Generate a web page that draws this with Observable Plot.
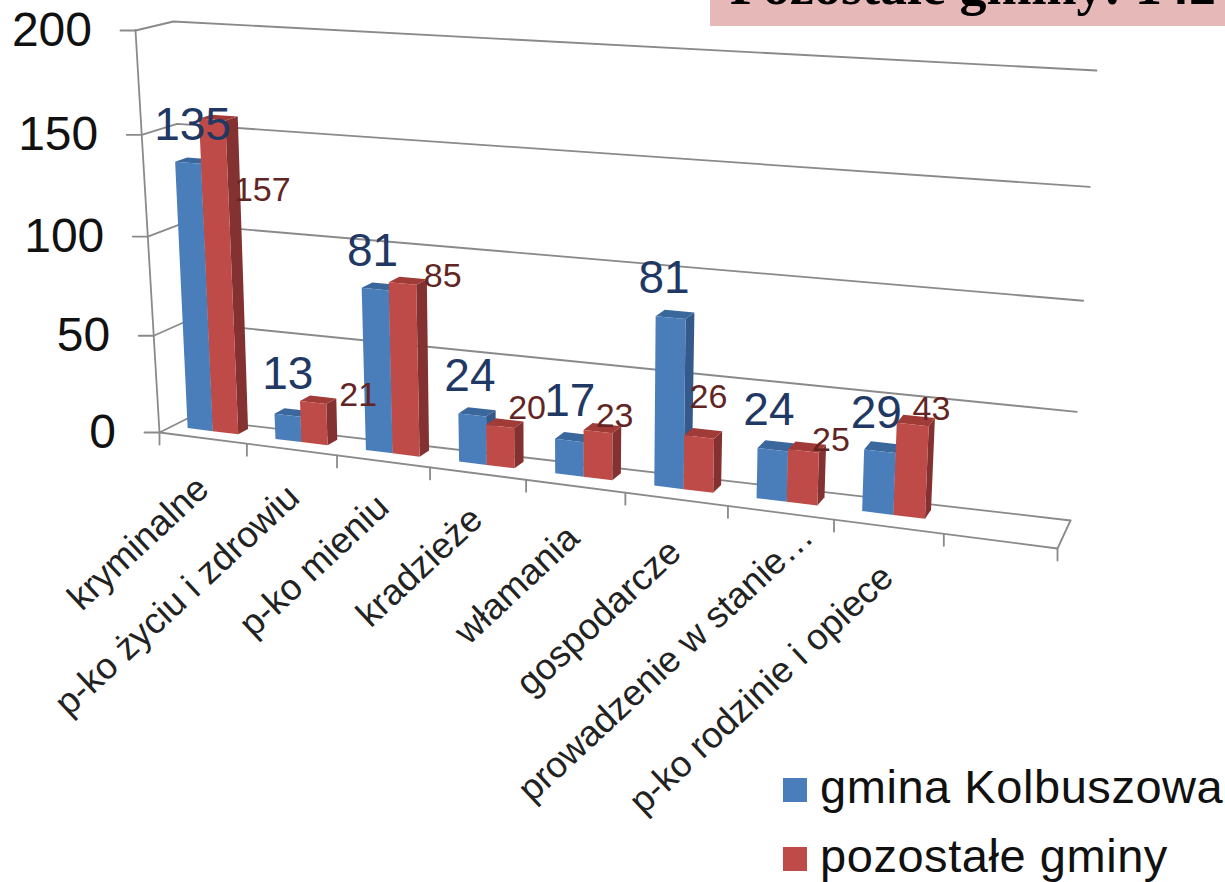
<!DOCTYPE html>
<html lang="pl">
<head>
<meta charset="utf-8">
<script src="https://cdn.jsdelivr.net/npm/d3@7"></script>
<script src="https://cdn.jsdelivr.net/npm/@observablehq/plot@0.6"></script>
<style>
  html, body { margin: 0; padding: 0; background: #fff; overflow: hidden; }
  #wrap { position: relative; width: 1225px; height: 882px; font-family: "Liberation Sans", Arial, sans-serif; }
  #wrap svg { display: block; position: absolute; left: 0; top: 0; }
  #title { position: absolute; left: 710px; top: 0; width: 515px; height: 26px; background: #E6B8B7; overflow: hidden; }
  #title span { position: absolute; left: 20px; top: -45px; font: bold 54px "Liberation Serif", "Times New Roman", serif; color: #000; white-space: nowrap; line-height: 62px; }
  .key { position: absolute; left: 783px; font-size: 47px; line-height: 50px; color: #111; white-space: nowrap; letter-spacing: 0.55px; }
  .key i { position: absolute; left: 0; top: 16px; width: 24px; height: 24px; }
  .key span { margin-left: 37px; }
</style>
</head>
<body>
<div id="wrap"></div>
<script>
const categories = ["kryminalne", "p-ko życiu i zdrowiu", "p-ko mieniu", "kradzieże", "włamania", "gospodarcze", "prowadzenie w stanie…", "p-ko rodzinie i opiece"];
const gminaKolbuszowa = [135, 13, 81, 24, 17, 81, 24, 29];
const pozostaleGminy = [157, 21, 85, 20, 23, 26, 25, 43];
const yTicks = [0, 50, 100, 150, 200];
const slots = 9;

const seriesNames = ["gmina Kolbuszowa", "pozostałe gminy"];
const palette = [
  {front: "#4A7EBB", top: "#3A679C", side: "#34598A", text: "#1F3864"},
  {front: "#BE4B48", top: "#A13B38", side: "#843231", text: "#632523"}
];

// perspective of the chart box: [u across slots, v along the value axis, z depth 0..1]
function quad(p0, p1, p2, p3) {
  const dx1 = p1[0] - p2[0], dy1 = p1[1] - p2[1], dx2 = p3[0] - p2[0], dy2 = p3[1] - p2[1];
  const sx = p0[0] - p1[0] + p2[0] - p3[0], sy = p0[1] - p1[1] + p2[1] - p3[1];
  const den = dx1 * dy2 - dx2 * dy1;
  const g = (sx * dy2 - dx2 * sy) / den, h = (dx1 * sy - sx * dy1) / den;
  const a = p1[0] - p0[0] + g * p1[0], b = p3[0] - p0[0] + h * p3[0];
  const d = p1[1] - p0[1] + g * p1[1], e = p3[1] - p0[1] + h * p3[1];
  return (s, t) => {
    const w = g * s + h * t + 1;
    return [(a * s + b * t + p0[0]) / w, (d * s + e * t + p0[1]) / w];
  };
}
const frontPlane = quad([159, 432], [1057, 548], [1083, 85], [135, 30]);
const backPlane = quad([187, 418], [1070, 520], [1096, 70], [173, 21]);
const box = {
  stream: (out) => ({
    point(u, v, z = 0) {
      const f = frontPlane(u / slots, v / 200), k = backPlane(u / slots, v / 200);
      out.point(f[0] + (k[0] - f[0]) * z, f[1] + (k[1] - f[1]) * z);
    },
    lineStart() { out.lineStart(); },
    lineEnd() { out.lineEnd(); },
    polygonStart() { out.polygonStart(); },
    polygonEnd() { out.polygonEnd(); },
    sphere() {}
  })
};

const line = (coordinates) => ({type: "LineString", coordinates});
const face = (fill, ...ring) => ({type: "Feature", properties: {fill}, geometry: {type: "Polygon", coordinates: [[...ring, ring[0]]]}});

const nearZ = 0.45, farZ = 0.8, gap = 0.18, barW = 0.29;
const faces = [];
categories.forEach((_, i) => {
  [gminaKolbuszowa[i], pozostaleGminy[i]].forEach((val, s) => {
    const c = palette[s], l = i + gap + s * barW, r = l + barW;
    faces.push(face(c.side, [r, 0, nearZ], [r, 0, farZ], [r, val, farZ], [r, val, nearZ]));
    faces.push(face(c.top, [l, val, nearZ], [l, val, farZ], [r, val, farZ], [r, val, nearZ]));
    faces.push(face(c.front, [l, 0, nearZ], [r, 0, nearZ], [r, val, nearZ], [l, val, nearZ]));
  });
});

const walls = yTicks.map((v) => line([[0, v, 0], [0, v, 1], [slots, v, 1]]));
const floorEdges = [line([[0, 0, 0], [slots, 0, 0], [slots, 0, 1]]), line([[0, 0, 0], [0, 200, 0]])];

const tickShape = {draw(ctx, l) { ctx.moveTo(0, 0); ctx.lineTo(0, -l); }};
const slotTicks = d3.range(slots + 1);

// label nudges in pixels, per category, for [gmina Kolbuszowa, pozostałe gminy]
const nudgeX = [[20, 66], [13, 58], [11, 54], [10, 39], [12, 28], [5, 20], [6, 37], [5, 27]];
const nudgeY = [[-43, 66], [-48, -15], [-45, -14], [-47, -26], [-48, -24], [-48, -49], [-49, -21], [-49, -26]];
// category label nudges in pixels
const catDx = [0, 2, 0, -1, -2, -1, 27, -1];
const catDy = [45, 42, 40, 40, 46, 47, 18, 45];

const valueLabels = categories.flatMap((_, i) =>
  [gminaKolbuszowa[i], pozostaleGminy[i]].map((val, s) =>
    Plot.text([val], {
      x: () => i + gap + (s + 0.5) * barW, y: (d) => d, text: (d) => String(d),
      dx: nudgeX[i][s], dy: nudgeY[i][s],
      fontSize: s === 0 ? 46 : 34, fill: palette[s].text, fontFamily: "Liberation Sans"
    })
  )
);
const categoryLabels = categories.map((name, i) =>
  Plot.text([name], {
    x: () => i + 0.5, y: () => 0, text: (d) => d, rotate: -43, textAnchor: "end",
    dx: catDx[i], dy: catDy[i], fontSize: 36.5, fill: "#222", fontFamily: "Liberation Sans"
  })
);

const chart = Plot.plot({
  width: 1225,
  height: 882,
  margin: 0,
  projection: box,
  color: {type: "identity"},
  marks: [
    Plot.geo(walls, {stroke: "#8A8A8A", strokeWidth: 1.8}),
    Plot.geo(floorEdges, {stroke: "#8A8A8A", strokeWidth: 1.8}),
    Plot.vector(yTicks, {x: () => 0, y: (d) => d, length: 15, rotate: -90, shape: tickShape, anchor: "start", stroke: "#8A8A8A", strokeWidth: 1.8}),
    Plot.vector(slotTicks, {x: (d) => d, y: () => 0, length: 12, rotate: 180, shape: tickShape, anchor: "start", stroke: "#8A8A8A", strokeWidth: 1.8}),
    Plot.geo(faces, {fill: (d) => d.properties.fill}),
    Plot.text(yTicks, {x: () => 0, y: (d) => d, text: (d) => String(d), dx: -43.5, textAnchor: "end", fontSize: 48, fill: "#111", fontFamily: "Liberation Sans"}),
    ...categoryLabels,
    ...valueLabels
  ]
});

const wrap = document.getElementById("wrap");
wrap.appendChild(chart);
const title = document.createElement("div");
title.id = "title";
title.innerHTML = "<span>Pozostałe gminy: 142</span>";
wrap.appendChild(title);
seriesNames.forEach((name, s) => {
  const k = document.createElement("div");
  k.className = "key";
  k.style.top = (s === 0 ? 762 : 831) + "px";
  k.innerHTML = `<i style="background:${palette[s].front}"></i><span>${name}</span>`;
  wrap.appendChild(k);
});
</script>
</body>
</html>
